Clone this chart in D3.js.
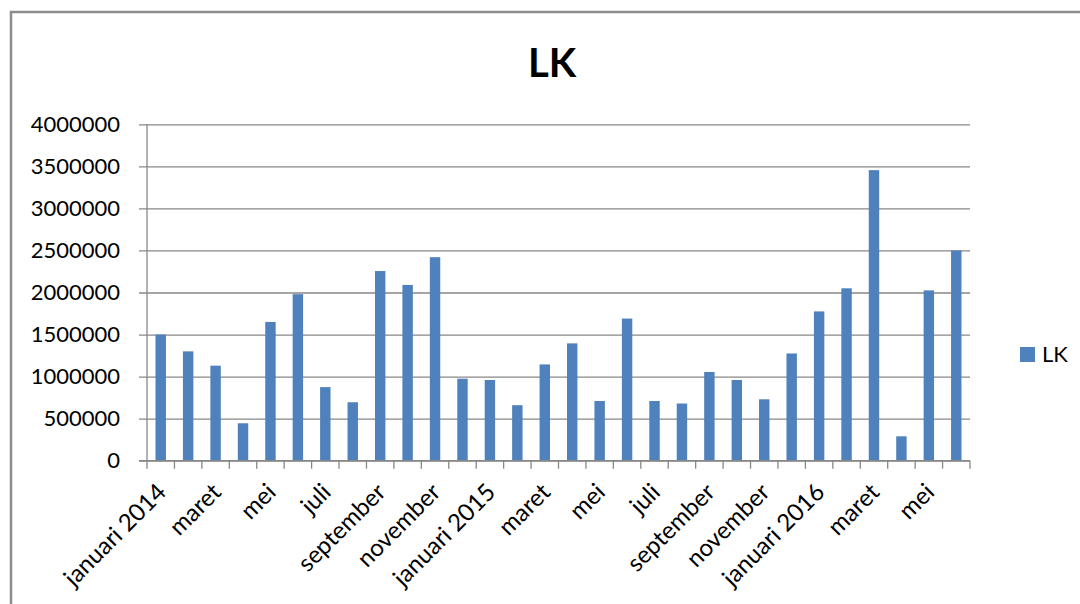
<!DOCTYPE html>
<html>
<head>
<meta charset="utf-8">
<script src="https://cdn.jsdelivr.net/npm/d3@7"></script>
<style>
  html, body { margin: 0; padding: 0; background: #fff; }
  svg { display: block; }
  text { font-family: Lato, "Open Sans", sans-serif; fill: #000; }
</style>
</head>
<body>
<svg id="chart" width="1080" height="604"></svg>
<script>
// Monthly LK totals, January 2014 through June 2016
const months = [
  "januari 2014", "februari", "maret", "april", "mei", "juni",
  "juli", "agustus", "september", "oktober", "november", "desember",
  "januari 2015", "februari", "maret", "april", "mei", "juni",
  "juli", "agustus", "september", "oktober", "november", "desember",
  "januari 2016", "februari", "maret", "april", "mei", "juni"
];
const lkValues = [
  1500000, 1300000, 1130000, 445000, 1650000, 1980000,
  875000, 695000, 2255000, 2090000, 2420000, 975000,
  960000, 660000, 1145000, 1395000, 710000, 1690000,
  710000, 680000, 1055000, 960000, 730000, 1275000,
  1775000, 2050000, 3455000, 290000, 2025000, 2500000
];
const yTicks = [0, 500000, 1000000, 1500000, 2000000, 2500000, 3000000, 3500000, 4000000];
const seriesName = "LK";
const chartTitle = "LK";

const svg = d3.select("#chart");
const plot = { left: 147, right: 970, top: 124.3, bottom: 460.7 };
const barColor = "#4F81BD";
const gridColor = "#878787";

// outer chart frame
svg.append("path")
  .attr("d", `M11,606 V12 H1082`)
  .attr("fill", "none")
  .attr("stroke", "#8c8c8c")
  .attr("stroke-width", 2.5);

const idx = d3.range(months.length);
const x = d3.scaleBand()
  .domain(idx)
  .range([plot.left, plot.right])
  .paddingInner(0.62)
  .paddingOuter(0.31);

const y = d3.scaleLinear()
  .domain([0, 4000000])
  .range([plot.bottom, plot.top]);

// horizontal gridlines + y labels
const yAxis = svg.append("g")
  .attr("transform", `translate(${plot.left},0)`)
  .call(d3.axisLeft(y)
    .tickValues(yTicks)
    .tickFormat(d3.format("d"))
    .tickSizeInner(-(plot.right - plot.left))
    .tickSizeOuter(0)
    .tickPadding(27));
yAxis.select(".domain").remove();
yAxis.selectAll(".tick line")
  .attr("x1", -8)
  .attr("stroke", gridColor)
  .attr("stroke-width", 1.3);
yAxis.selectAll(".tick text")
  .attr("font-size", 22)
  .attr("fill", "#000");

// vertical value axis line
svg.append("line")
  .attr("x1", plot.left).attr("x2", plot.left)
  .attr("y1", y(4000000)).attr("y2", y(0))
  .attr("stroke", gridColor).attr("stroke-width", 1.3);

// bars
svg.append("g")
  .selectAll("rect")
  .data(lkValues)
  .join("rect")
  .attr("x", (d, i) => x(i))
  .attr("width", x.bandwidth())
  .attr("y", d => y(d))
  .attr("height", d => y(0) - y(d))
  .attr("fill", barColor);

// category axis: baseline and ticks at category boundaries
const gap = x.step() - x.bandwidth();
const boundaries = idx.map(i => x(i) - gap / 2).concat([x(idx.length - 1) + x.bandwidth() + gap / 2]);
svg.append("line")
  .attr("x1", plot.left - 8).attr("x2", plot.right)
  .attr("y1", y(0)).attr("y2", y(0))
  .attr("stroke", gridColor).attr("stroke-width", 1.3);
svg.append("g")
  .selectAll("line")
  .data(boundaries)
  .join("line")
  .attr("x1", d => d).attr("x2", d => d)
  .attr("y1", y(0)).attr("y2", y(0) + 8)
  .attr("stroke", gridColor).attr("stroke-width", 1.3);

// category labels, every second month, rotated
svg.append("g")
  .selectAll("text")
  .data(idx.filter(i => i % 2 === 0))
  .join("text")
  .attr("transform", i => `translate(${x(i) + x.bandwidth() / 2 + 1},${y(0) + 27}) rotate(-45)`)
  .attr("text-anchor", "end")
  .attr("dy", "0.35em")
  .attr("font-size", 24)
  .text(i => months[i]);

// title
svg.append("text")
  .attr("x", 552)
  .attr("y", 77)
  .attr("text-anchor", "middle")
  .attr("font-size", 40)
  .attr("font-weight", "bold")
  .text(chartTitle);

// legend
const legend = svg.append("g").attr("transform", "translate(1020,347)");
legend.append("rect")
  .attr("width", 15).attr("height", 15)
  .attr("fill", barColor);
legend.append("text")
  .attr("x", 22).attr("y", 15)
  .attr("font-size", 22)
  .text(seriesName);
</script>
</body>
</html>
